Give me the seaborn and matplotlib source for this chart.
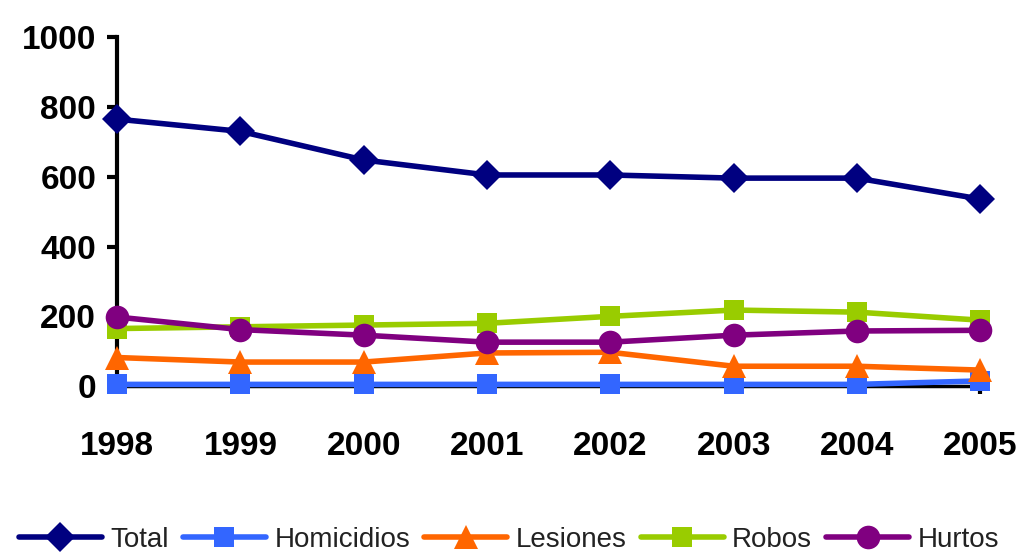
import matplotlib
matplotlib.use("Agg")
import matplotlib.pyplot as plt
import seaborn as sns
import pandas as pd

years = [1998, 1999, 2000, 2001, 2002, 2003, 2004, 2005]
total = [765, 730, 648, 605, 605, 596, 596, 536]
homicidios = [5, 5, 5, 5, 5, 5, 5, 15]
lesiones = [82, 69, 69, 95, 97, 57, 57, 46]
robos = [165, 170, 175, 180, 200, 218, 212, 189]
hurtos = [198, 162, 146, 126, 126, 146, 158, 160]

series_names = ["Total", "Homicidios", "Lesiones", "Robos", "Hurtos"]
series_values = [total, homicidios, lesiones, robos, hurtos]
colors = ["#000080", "#3366FF", "#FF6600", "#99CC00", "#800080"]
markers = ["D", "s", "^", "s", "o"]
msizes = [15, 15, 17, 15, 17]

sns.set_style("white")
plt.rcParams["font.family"] = ["Liberation Sans", "DejaVu Sans"]
plt.rcParams["text.color"] = "black"
plt.rcParams["xtick.color"] = "black"
plt.rcParams["ytick.color"] = "black"

fig = plt.figure(figsize=(10.18, 5.54), dpi=100)
ax = fig.add_axes([0.115, 0.303, 0.848, 0.630])

for name, vals, c, m, ms in zip(series_names, series_values, colors, markers, msizes):
    df = pd.DataFrame({"year": years, "value": vals})
    sns.lineplot(data=df, x="year", y="value", ax=ax, color=c, linewidth=4,
                 marker=m, markersize=ms, markeredgewidth=0, label=name,
                 clip_on=False)

ax.set_xlim(1998, 2005)
ax.set_ylim(0, 1000)
ax.set_yticks([0, 200, 400, 600, 800, 1000])
ax.set_xticks(years)
ax.set_xlabel("")
ax.set_ylabel("")

for s in ["top", "right"]:
    ax.spines[s].set_visible(False)
ax.spines["left"].set_linewidth(3)
ax.spines["bottom"].set_linewidth(2.5)
ax.spines["left"].set_color("black")
ax.spines["bottom"].set_color("black")
ax.spines["left"].set_zorder(0.5)
ax.spines["bottom"].set_zorder(0.5)

ax.tick_params(axis="y", direction="out", length=7, width=3, pad=8,
               left=True, labelsize=24)
ax.tick_params(axis="x", direction="out", length=6, width=3, pad=26,
               bottom=True, labelsize=24)
for lab in ax.get_xticklabels() + ax.get_yticklabels():
    lab.set_fontweight("bold")

handles, labels = ax.get_legend_handles_labels()
if ax.legend_:
    ax.legend_.remove()
leg = fig.legend(handles, labels, loc="center", bbox_to_anchor=(0.5, 0.025), ncol=5,
                 frameon=False, handlelength=3.0, handletextpad=0.3, columnspacing=0.5,
                 prop={"family": ["Liberation Sans", "DejaVu Sans"], "size": 20})
for t in leg.get_texts():
    t.set_color("#222222")

fig.savefig("out.png", dpi=100)
